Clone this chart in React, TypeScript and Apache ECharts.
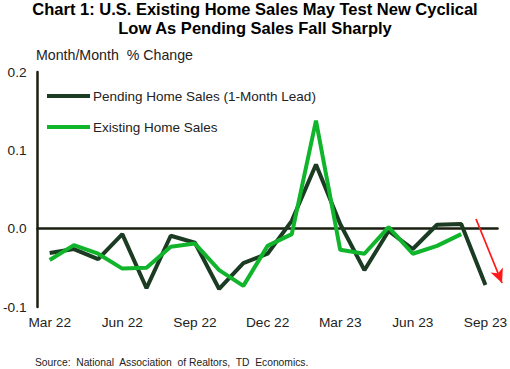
import React, { useEffect, useRef } from "react";
import * as echarts from "echarts";

const categories = [
  "Mar 22", "Apr 22", "May 22", "Jun 22", "Jul 22", "Aug 22", "Sep 22", "Oct 22", "Nov 22", "Dec 22",
  "Jan 23", "Feb 23", "Mar 23", "Apr 23", "May 23", "Jun 23", "Jul 23", "Aug 23", "Sep 23",
];
const pendingSales = [
  -0.031, -0.026, -0.039, -0.007, -0.076, -0.009, -0.018, -0.077, -0.044, -0.032,
  0.010, 0.082, 0.006, -0.053, -0.003, -0.026, 0.005, 0.006, -0.072,
];
const existingSales = [
  -0.040, -0.021, -0.032, -0.051, -0.050, -0.023, -0.019, -0.053, -0.073, -0.022,
  -0.007, 0.138, -0.027, -0.032, 0.002, -0.032, -0.022, -0.007, null,
];
const titleText = "Chart 1: U.S. Existing Home Sales May Test New Cyclical\nLow As Pending Sales Fall Sharply";
const yAxisTitle = "Month/Month  % Change";
const sourceText = "Source:  National  Association  of Realtors,  TD  Economics.";
const seriesNames = ["Pending Home Sales (1-Month Lead)", "Existing Home Sales"];

const FONT = "'Liberation Sans', Arial, sans-serif";

export default function App() {
  const ref = useRef<HTMLDivElement>(null);
  useEffect(() => {
    if (!ref.current) return;
    const chart = echarts.init(ref.current, undefined, { renderer: "svg" });
    chart.setOption({
      animation: false,
      backgroundColor: "#ffffff",
      textStyle: { fontFamily: FONT },
      title: {
        text: titleText,
        left: "center",
        top: -6,
        textStyle: { fontFamily: FONT, fontSize: 16.5, fontWeight: "bold", color: "#000", lineHeight: 19 },
      },
      graphic: [
        {
          type: "text",
          left: 36,
          top: 48,
          style: { text: yAxisTitle, fontFamily: FONT, fontSize: 14.2, fill: "#222" },
        },
        {
          type: "text",
          left: 35,
          top: 357,
          style: { text: sourceText, fontFamily: FONT, fontSize: 10.3, fill: "#222" },
        },
      ],
      legend: {
        orient: "vertical",
        left: 42,
        top: 84,
        itemGap: 17,
        itemWidth: 43,
        itemHeight: 4,
        icon: "rect",
        textStyle: { fontFamily: FONT, fontSize: 13.5, color: "#222", padding: [0, 0, 0, -2] },
        data: seriesNames,
      },
      grid: { left: 35, right: 10, top: 72, bottom: 62, containLabel: false },
      xAxis: {
        type: "category",
        data: categories,
        boundaryGap: true,
        axisLine: { onZero: true, lineStyle: { color: "#1a1f10", width: 2.5 } },
        axisTick: { show: false },
        axisLabel: {
          fontFamily: FONT,
          fontSize: 13.7,
          color: "#222",
          margin: 8,
          customValues: [0, 3, 6, 9, 12, 15, 18],
        },
        splitLine: { show: false },
      },
      yAxis: {
        type: "value",
        min: -0.1,
        max: 0.2,
        interval: 0.1,
        axisLine: { show: true, lineStyle: { color: "#1a1f10", width: 2.5 } },
        axisTick: { show: false },
        splitLine: { show: false },
        axisLabel: {
          fontFamily: FONT,
          fontSize: 13.7,
          color: "#222",
          margin: 11,
          formatter: (v: number) => v.toFixed(1),
        },
      },
      series: [
        {
          name: seriesNames[0],
          type: "line",
          data: pendingSales,
          symbol: "none",
          lineStyle: { color: "#1b3b23", width: 4 },
          itemStyle: { color: "#1b3b23" },
          z: 2,
          markLine: {
            silent: true,
            symbol: ["none", "arrow"],
            symbolSize: [10, 14],
            label: { show: false },
            lineStyle: { color: "#ff1a1a", width: 1.8, type: "solid" },
            data: [[{ x: 476, y: 219 }, { x: 502, y: 283 }]],
          },
        },
        {
          name: seriesNames[1],
          type: "line",
          data: existingSales,
          symbol: "none",
          lineStyle: { color: "#11b52b", width: 4 },
          itemStyle: { color: "#11b52b" },
          z: 3,
        },
      ],
    });
    return () => chart.dispose();
  }, []);
  return <div ref={ref} style={{ width: 510, height: 369, position: "absolute", left: 0, top: 0 }} />;
}
